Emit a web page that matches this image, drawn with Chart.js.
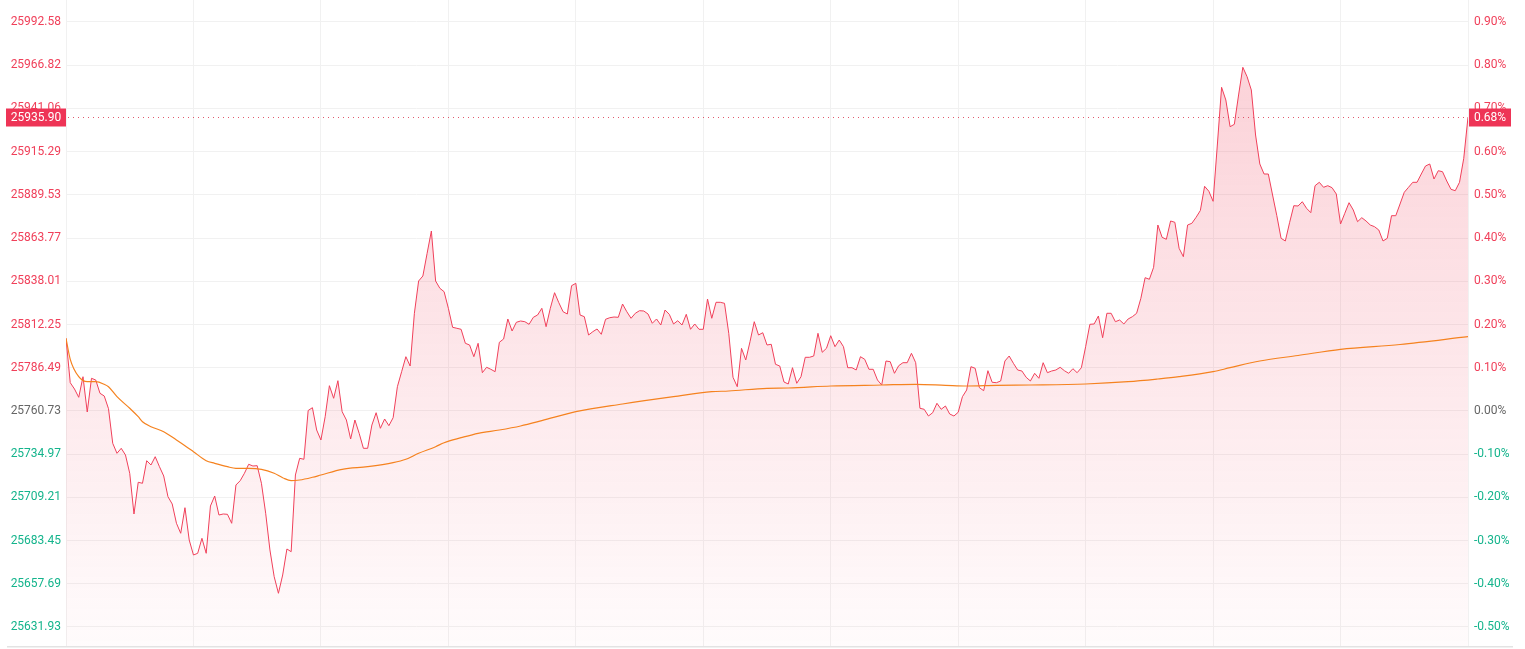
<!DOCTYPE html>
<html>
<head>
<meta charset="utf-8">
<script src="https://cdn.jsdelivr.net/npm/chart.js@4.4.1/dist/chart.umd.min.js"></script>
<style>
  html, body { margin: 0; padding: 0; background: #ffffff; }
  #wrap { position: relative; width: 1525px; height: 649px; }
</style>
</head>
<body>
<div id="wrap"><canvas id="c"></canvas></div>
<script>
// ---- data ----
const basePrice = 25760.73;

// one price per trading minute (0 .. 330)
const prices = [
25804.03, 25777.56, 25773.80, 25768.85, 25781.13, 25760.09, 25780.18, 25779.17, 25771.24, 25769.63,
25762.06, 25741.43, 25735.47, 25738.45, 25734.46, 25723.55, 25699.29, 25718.19, 25717.59, 25731.06,
25728.50, 25733.45, 25727.49, 25721.94, 25709.60, 25705.25, 25693.75, 25687.79, 25703.05, 25683.79,
25674.85, 25675.86, 25684.80, 25675.86, 25704.06, 25710.02, 25698.69, 25699.29, 25699.11, 25693.75,
25716.58, 25719.14, 25723.55, 25728.92, 25727.90, 25728.08, 25717.59, 25699.71, 25677.83, 25661.91,
25652.02, 25662.93, 25678.43, 25676.82, 25722.54, 25732.49, 25731.90, 25760.99, 25762.66, 25749.36,
25743.40, 25757.29, 25775.77, 25768.26, 25778.75, 25760.27, 25755.32, 25744.00, 25755.32, 25747.40,
25738.45, 25738.45, 25752.34, 25759.67, 25750.38, 25755.92, 25751.93, 25756.69, 25775.17, 25784.12,
25793.06, 25787.51, 25818.93, 25838.18, 25841.16, 25854.69, 25867.99, 25838.18, 25833.83, 25831.80,
25821.91, 25810.58, 25809.99, 25809.39, 25801.04, 25800.03, 25793.06, 25801.04, 25783.52, 25786.74,
25785.55, 25784.12, 25801.64, 25803.61, 25815.53, 25808.38, 25813.56, 25814.34, 25813.92, 25812.37,
25816.54, 25817.91, 25821.91, 25810.94, 25821.91, 25831.21, 25825.25, 25819.88, 25818.51, 25835.38,
25836.81, 25817.91, 25816.90, 25805.99, 25807.96, 25809.57, 25806.41, 25815.35, 25816.31, 25816.72,
25816.54, 25824.47, 25819.88, 25815.95, 25818.93, 25820.48, 25820.30, 25818.51, 25812.97, 25815.53,
25811.95, 25820.89, 25818.33, 25812.55, 25814.52, 25811.95, 25818.33, 25809.39, 25812.55, 25809.39,
25809.39, 25827.45, 25815.95, 25825.48, 25825.48, 25824.89, 25807.01, 25780.78, 25775.17, 25798.06,
25791.09, 25802.00, 25813.92, 25805.99, 25807.36, 25800.03, 25800.45, 25788.53, 25787.51, 25777.98,
25776.78, 25786.50, 25777.20, 25781.13, 25792.70, 25792.70, 25793.47, 25807.01, 25795.68, 25798.06,
25805.57, 25799.02, 25803.01, 25799.02, 25786.50, 25786.50, 25785.13, 25793.06, 25791.51, 25785.55,
25785.55, 25779.17, 25776.19, 25790.49, 25790.08, 25783.16, 25787.69, 25789.48, 25789.48, 25795.08,
25789.48, 25762.30, 25761.70, 25757.71, 25759.67, 25765.28, 25761.70, 25763.67, 25758.90, 25757.71,
25759.91, 25769.21, 25773.21, 25787.10, 25786.14, 25774.58, 25772.79, 25784.71, 25777.80, 25777.56,
25778.57, 25790.49, 25793.47, 25789.12, 25785.13, 25784.53, 25780.78, 25778.57, 25783.16, 25780.18,
25789.48, 25783.52, 25784.53, 25785.13, 25786.74, 25784.71, 25783.16, 25785.90, 25783.52, 25786.50,
25799.02, 25812.37, 25812.55, 25817.32, 25804.38, 25818.93, 25818.93, 25813.92, 25814.93, 25812.55,
25815.53, 25816.90, 25818.93, 25827.87, 25840.15, 25839.20, 25846.35, 25871.56, 25864.23, 25863.04,
25873.95, 25873.17, 25857.67, 25852.67, 25871.56, 25872.58, 25876.15, 25880.21, 25894.63, 25891.71,
25885.69, 25919.25, 25953.65, 25946.08, 25930.16, 25931.59, 25949.06, 25965.57, 25959.97, 25952.04,
25925.21, 25907.93, 25901.96, 25901.96, 25889.45, 25877.11, 25863.64, 25862.03, 25872.93, 25883.07,
25882.89, 25885.45, 25881.52, 25878.90, 25894.99, 25897.02, 25894.04, 25894.99, 25893.80, 25890.04,
25872.16, 25878.54, 25884.86, 25880.50, 25873.53, 25875.91, 25873.95, 25871.56, 25870.55, 25868.58,
25862.03, 25863.64, 25877.11, 25877.11, 25884.08, 25891.06, 25894.04, 25897.02, 25897.02, 25901.96,
25906.73, 25907.93, 25898.98, 25903.93, 25903.34, 25897.79, 25892.84, 25892.01, 25897.02, 25911.32,
25935.90
];

// average-price line, read at these minutes
const avgMinutes = [0,1,3,5,7,9,10,12,15,17,18,20,23,26,28,30,33,35,38,40,43,46,49,51,53,55,58,60,65,71,77,80,83,87,89,93,97,102,107,112,120,131,143,152,156,165,170,180,192,200,207,212,219,227,240,250,257,262,270,274,281,290,300,314,330];
const avgPrices = [25804.03,25791.51,25781.13,25778.15,25778.15,25776.60,25775.17,25769.21,25762.30,25757.29,25754.31,25751.33,25748.35,25743.40,25740.00,25736.43,25731.06,25729.51,25727.49,25726.53,25726.53,25725.94,25723.55,25720.93,25719.14,25719.56,25721.17,25722.54,25725.94,25727.49,25729.87,25731.90,25735.47,25739.41,25741.79,25744.77,25747.40,25749.36,25751.75,25754.91,25760.27,25764.86,25769.21,25772.19,25772.61,25774.22,25774.40,25775.59,25776.19,25776.60,25776.01,25775.59,25776.01,25776.19,25776.78,25778.15,25779.76,25781.13,25784.12,25786.50,25790.49,25793.77,25797.47,25800.33,25804.98];

// axis tick labels
const priceTicks = [25631.93, 25657.69, 25683.45, 25709.21, 25734.97, 25760.73, 25786.49, 25812.25, 25838.01, 25863.77, 25889.53, 25915.29, 25941.06, 25966.82, 25992.58];
const pctTickLabels = ['-0.50%', '-0.40%', '-0.30%', '-0.20%', '-0.10%', '0.00%', '0.10%', '0.20%', '0.30%', '0.40%', '0.50%', '0.60%', '0.70%', '0.80%', '0.90%'];
const priceTickLabels = priceTicks.map(v => v.toFixed(2));

// ---- style ----
const RED = '#f0405a';
const TAG_RED = '#ee3456';
const GREEN = '#14b48c';
const GREY = '#666666';
const ORANGE = '#f5821f';
const GRID = '#f1f1f1';
const FONT = { family: 'Roboto, "Liberation Sans", Arial, sans-serif', size: 12 };

function tickColor(ctx) {
  const v = ctx.tick && ctx.tick.value;
  if (v === undefined) return GREY;
  if (v > basePrice + 0.005) return RED;
  if (v < basePrice - 0.005) return GREEN;
  return GREY;
}

function noPad(s) {
  s.paddingTop = 0; s.paddingBottom = 0; s.paddingLeft = 0; s.paddingRight = 0;
}

const lastPricePlugin = {
  id: 'lastPrice',
  afterDatasetsDraw(chart) {
    const { ctx, chartArea } = chart;
    const yScale = chart.scales.y;
    const last = prices[prices.length - 1];
    const y = Math.round(yScale.getPixelForValue(last)) + 0.5;
    ctx.save();
    // dotted line
    ctx.strokeStyle = 'rgba(220,60,85,0.85)';
    ctx.lineWidth = 1;
    ctx.setLineDash([1, 4]);
    ctx.beginPath();
    ctx.moveTo(chartArea.left + 2, y);
    ctx.lineTo(chartArea.right, y);
    ctx.stroke();
    ctx.setLineDash([]);
    // left tag
    ctx.fillStyle = TAG_RED;
    ctx.fillRect(6, y - 9, chartArea.left - 6, 18);
    // right tag
    ctx.fillRect(chartArea.right + 1, y - 9, 42, 18);
    ctx.fillStyle = '#ffffff';
    ctx.font = '12px ' + FONT.family;
    ctx.textAlign = 'center';
    ctx.textBaseline = 'middle';
    ctx.fillText(last.toFixed(2), (6 + chartArea.left) / 2, y + 0.5);
    const pct = ((last / basePrice - 1) * 100).toFixed(2) + '%';
    ctx.fillText(pct, chartArea.right + 1 + 21, y + 0.5);
    // bottom border
    ctx.strokeStyle = '#e3e3e3';
    ctx.lineWidth = 1.5;
    ctx.beginPath();
    ctx.moveTo(7, chartArea.bottom + 0.75);
    ctx.lineTo(1513, chartArea.bottom + 0.75);
    ctx.stroke();
    ctx.restore();
  }
};

const Y_MIN = 25620.60;
const Y_MAX = 26005.69;

new Chart(document.getElementById('c'), {
  type: 'line',
  data: {
    datasets: [
      {
        label: 'avg',
        data: avgMinutes.map((m, k) => ({ x: m, y: avgPrices[k] })),
        borderColor: ORANGE,
        borderWidth: 1.2,
        pointRadius: 0,
        fill: false,
        cubicInterpolationMode: 'monotone',
        order: 0
      },
      {
        label: 'price',
        data: prices.map((p, i) => ({ x: i, y: p })),
        borderColor: RED,
        borderWidth: 1,
        pointRadius: 0,
        tension: 0,
        fill: 'start',
        backgroundColor: (c) => {
          const a = c.chart.chartArea;
          if (!a) return 'rgba(240,64,90,0.1)';
          const g = c.chart.ctx.createLinearGradient(0, a.top, 0, a.bottom);
          g.addColorStop(0, 'rgba(240,64,90,0.26)');
          g.addColorStop(1, 'rgba(240,64,90,0.02)');
          return g;
        },
        order: 1
      }
    ]
  },
  options: {
    responsive: true,
    maintainAspectRatio: false,
    animation: false,
    events: [],
    layout: { padding: { top: 0, bottom: 3, left: 0, right: 0 } },
    plugins: { legend: { display: false }, tooltip: { enabled: false } },
    scales: {
      x: {
        type: 'linear',
        min: 0,
        max: prices.length - 1,
        ticks: { display: false, stepSize: 30 },
        grid: { color: GRID, drawTicks: false },
        border: { display: false },
        afterFit: (s) => { s.height = 0; noPad(s); }
      },
      y: {
        position: 'left',
        min: Y_MIN,
        max: Y_MAX,
        afterBuildTicks: (s) => { s.ticks = priceTicks.map(v => ({ value: v })); },
        ticks: {
          padding: 5,
          font: FONT,
          color: tickColor,
          callback: (v, i) => priceTickLabels[i]
        },
        grid: { color: GRID, drawTicks: false },
        border: { display: false },
        afterFit: (s) => { s.width = 66; noPad(s); }
      },
      yr: {
        position: 'right',
        min: Y_MIN,
        max: Y_MAX,
        afterBuildTicks: (s) => { s.ticks = priceTicks.map(v => ({ value: v })); },
        ticks: {
          padding: 6,
          font: FONT,
          color: tickColor,
          callback: (v, i) => pctTickLabels[i]
        },
        grid: { display: false, drawTicks: false },
        border: { display: false },
        afterFit: (s) => { s.width = 57; noPad(s); }
      }
    }
  },
  plugins: [lastPricePlugin]
});
</script>
</body>
</html>
